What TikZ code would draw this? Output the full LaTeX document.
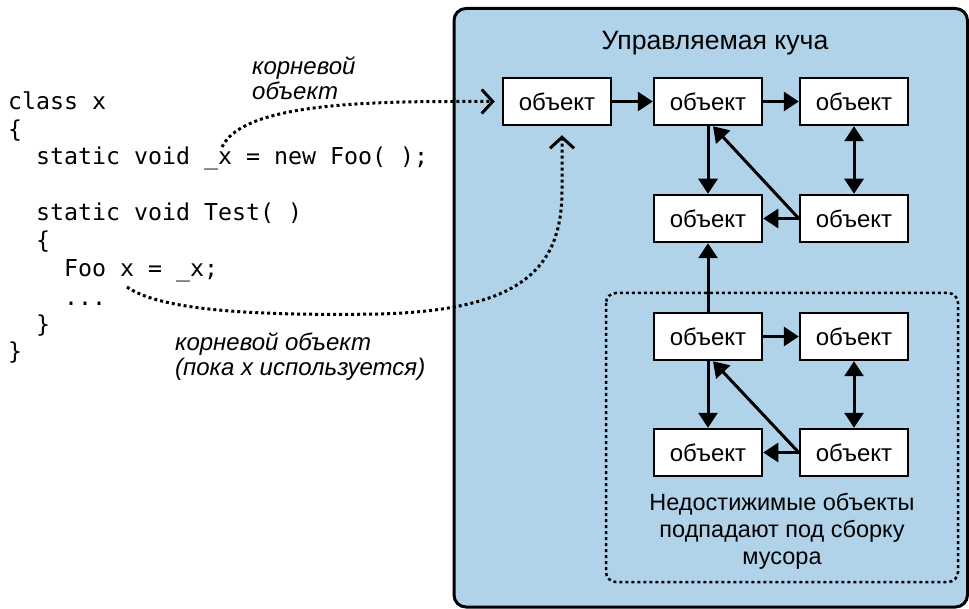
\documentclass[tikz,border=0pt]{standalone}
\usepackage{fontspec}
\setmainfont{Liberation Sans}
\setmonofont{DejaVu Sans Mono}
\usetikzlibrary{arrows.meta,calc}
\definecolor{heap}{RGB}{176,211,233}
\begin{document}
\begin{tikzpicture}[x=1pt,y=-1pt,
  obj/.style={draw, line width=2.5pt, fill=white, minimum width=108pt, minimum height=47pt, inner sep=0pt, font=\fontsize{24}{28}\selectfont},
  link/.style={line width=3pt, -{Triangle[length=15pt,width=19pt]}},
  dlink/.style={line width=3pt, {Triangle[length=15pt,width=19pt]}-{Triangle[length=15pt,width=19pt]}},
  dots/.style={line width=3pt, dash pattern=on 3pt off 3pt},
  chev/.style={-{Straight Barb[length=11pt,width=24pt,line width=3pt]}},
  codeline/.style={anchor=base west, inner sep=0pt, font=\fontsize{23.25}{28}\ttfamily},
  note/.style={anchor=base west, inner sep=0pt, align=left, font=\fontsize{24}{25.5}\selectfont\itshape},
  heaptext/.style={inner sep=0pt, font=\fontsize{23.5}{27}\selectfont}
]
\useasboundingbox (0,0) rectangle (969,609);
% heap panel
\draw[line width=3pt, fill=heap, rounded corners=12pt] (454,8.5) rectangle (967.5,607);
\node[heaptext, anchor=base, font=\fontsize{26.6}{30}\selectfont] (title) at (715,50) {Управляемая куча};
% unreachable area
\draw[dots, line width=2.5pt, rounded corners=10pt] (606,293) rectangle (958,582);
\node[heaptext, anchor=base, align=center] (garb) at (782,564) {Недостижимые объекты\\подпадают под сборку\\мусора};
% objects
\node[obj] (a1) at (557,101.5) {объект};
\node[obj] (a2) at (708,101.5) {объект};
\node[obj] (a3) at (854,101.5) {объект};
\node[obj] (b1) at (708,218.5) {объект};
\node[obj] (b2) at (854,218.5) {объект};
\node[obj] (c1) at (708,336.5) {объект};
\node[obj] (c2) at (854,336.5) {объект};
\node[obj] (d1) at (708,452.5) {объект};
\node[obj] (d2) at (854,452.5) {объект};
% links
\draw[link] (a1) -- (a2);
\draw[link] (a2) -- (a3);
\draw[link] (a2) -- (b1);
\draw[link] (b2.west) -- ($(a2.south)+(5,0)$);
\draw[link] (b2) -- (b1);
\draw[dlink] (a3) -- (b2);
\draw[link] (c1) -- (b1);
\draw[link] (c1) -- (c2);
\draw[link] (c1) -- (d1);
\draw[link] (d2.west) -- ($(c1.south)+(5,0)$);
\draw[link] (d2) -- (d1);
\draw[dlink] (c2) -- (d2);
% code
\node[codeline] (l1) at (8,110) {class x};
\node[codeline] (l2) at (8,137.5) {\{};
\node[codeline] (l3) at (8,165) {\ \ static void \_x = new Foo( );};
\node[codeline] (l4) at (8,221) {\ \ static void Test( )};
\node[codeline] (l5) at (8,249) {\ \ \{};
\node[codeline] (l6) at (8,277) {\ \ \ \ Foo x = \_x;};
\node[codeline] (l7) at (8,306) {\ \ \ \ ...};
\node[codeline] (l8) at (8,333) {\ \ \}};
\node[codeline] (l9) at (8,360) {\}};
% labels
\node[note] (n1) at (252,100) {корневой\\объект};
\node[note] (n2) at (175,376) {корневой объект\\(пока x используется)};
% root references
\coordinate (r1) at (222,147);
\coordinate (r2) at (127,287);
\draw[dots, chev] (r1) .. controls (240,110) and (330,101.5) .. (450,101.5) -- ($(a1.west)+(-7,0)$);
\draw[dots, chev] (r2) .. controls (160,310) and (250,316) .. (380,314) .. controls (520,310) and (562,270) .. (562,190) -- ($(a1.south)+(5,9)$);
\end{tikzpicture}
\end{document}
